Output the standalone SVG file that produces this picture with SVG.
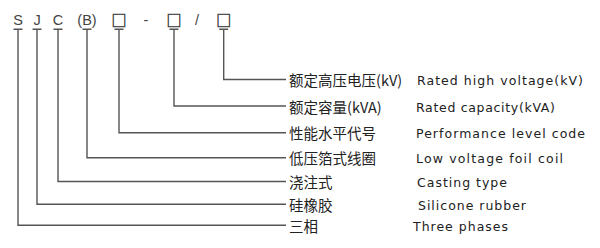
<svg xmlns="http://www.w3.org/2000/svg" width="600" height="248" viewBox="0 0 600 248">
<style>
.ln{fill:none;stroke:#555;stroke-width:1.4}
.code{font-family:"Liberation Sans",Arial,sans-serif;font-size:14.5px;fill:#444;text-anchor:middle}
.box{font-family:"Noto Sans CJK SC","Noto Sans CJK JP",sans-serif;font-size:15px;fill:#444;stroke:#444;stroke-width:0.5;text-anchor:middle}
.zh{font-family:"Noto Sans CJK SC","Noto Sans",sans-serif;font-size:14.5px;fill:#222}
.en{font-family:"DejaVu Sans","Liberation Sans",sans-serif;font-size:12.5px;fill:#222}
</style>
<rect width="600" height="248" fill="#fff"/>
<g id="code">
<text class="code" x="18" y="25">S</text>
<text class="code" x="37" y="25">J</text>
<text class="code" x="58" y="25">C</text>
<text class="code" x="87" y="25">(B)</text>
<text class="box" x="119" y="25.5">□</text>
<text class="code" x="146" y="25">-</text>
<text class="box" x="174" y="25.5">□</text>
<text class="code" x="197" y="25">/</text>
<text class="box" x="223.7" y="25.5">□</text>
</g>
<g id="connectors">
<path class="ln" d="M13.5 29.3H22.5M18 29.3V225.3H286"/>
<path class="ln" d="M32.5 29.3H41.5M37 29.3V204.3H286"/>
<path class="ln" d="M53.5 29.3H62.5M58 29.3V181.5H286"/>
<path class="ln" d="M82.5 29.3H91.5M87 29.3V157.7H286"/>
<path class="ln" d="M114.5 29.3H123.5M119 29.3V132.7H286"/>
<path class="ln" d="M169.5 29.3H178.5M174 29.3V106H286"/>
<path class="ln" d="M219.2 29.3H228.2M223.7 29.3V79.5H286"/>
</g>
<g id="row-kv">
<text class="zh" x="289" y="86">额定高压电压(kV)</text>
<text class="en" x="417" y="85" textLength="166" lengthAdjust="spacing">Rated high voltage(kV)</text>
</g>
<g id="row-kva">
<text class="zh" x="289" y="112.5">额定容量(kVA)</text>
<text class="en" x="416" y="111.5" textLength="139" lengthAdjust="spacing">Rated capacity(kVA)</text>
</g>
<g id="row-perf">
<text class="zh" x="289" y="139">性能水平代号</text>
<text class="en" x="416" y="138" textLength="169" lengthAdjust="spacing">Performance level code</text>
</g>
<g id="row-foil">
<text class="zh" x="289" y="164">低压箔式线圈</text>
<text class="en" x="416" y="163" textLength="147" lengthAdjust="spacing">Low voltage foil coil</text>
</g>
<g id="row-cast">
<text class="zh" x="289" y="188">浇注式</text>
<text class="en" x="417" y="187" textLength="90" lengthAdjust="spacing">Casting type</text>
</g>
<g id="row-sil">
<text class="zh" x="289" y="210.5">硅橡胶</text>
<text class="en" x="418" y="209.5" textLength="108" lengthAdjust="spacing">Silicone rubber</text>
</g>
<g id="row-three">
<text class="zh" x="289" y="231.5">三相</text>
<text class="en" x="413" y="230.5" textLength="95" lengthAdjust="spacing">Three phases</text>
</g>
</svg>
